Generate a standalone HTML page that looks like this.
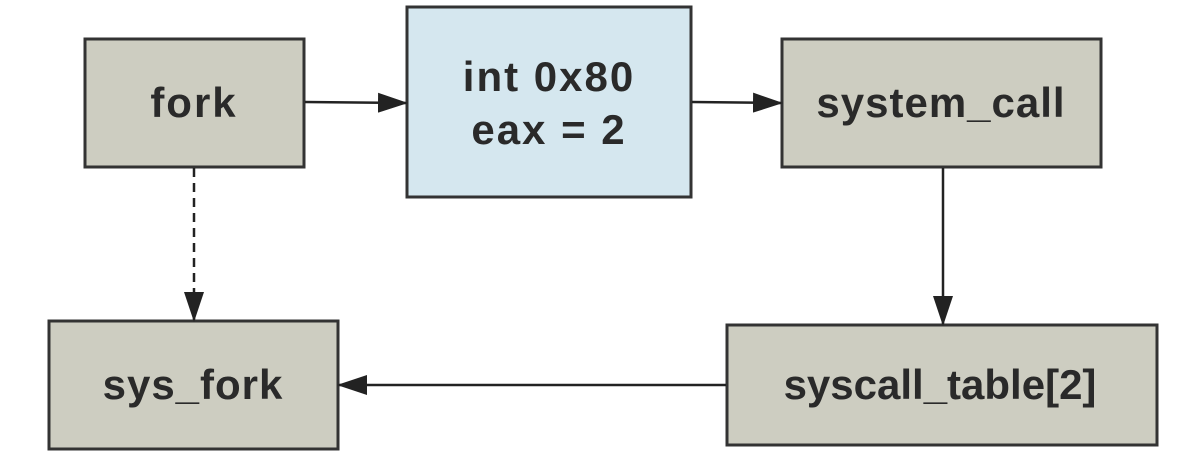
<html><body style="margin:0;width:1180px;height:456px;background:#fff;overflow:hidden">
<svg width="1180" height="456" xmlns="http://www.w3.org/2000/svg" font-family="Liberation Sans, sans-serif" font-weight="bold" font-size="42" fill="#2a2a2a">
<defs>
<marker id="b" markerWidth="30" markerHeight="20" refX="28" refY="10" orient="auto" markerUnits="userSpaceOnUse"><path d="M0,0 L30,10 L0,20 Z" fill="#222"/></marker></defs>
<g stroke="#333" stroke-width="3">
<rect x="85" y="39" width="219" height="128" fill="#cdcdc1"/>
<rect x="407" y="7" width="284" height="190" fill="#d5e7ef"/>
<rect x="782" y="39" width="319" height="128" fill="#cdcdc1"/>
<rect x="49" y="321" width="289" height="128" fill="#cdcdc1"/>
<rect x="727" y="325" width="430" height="120" fill="#cdcdc1"/>
</g>
<g stroke="#222" stroke-width="2.5" fill="none">
<line x1="305" y1="102" x2="406" y2="103" marker-end="url(#b)"/>
<line x1="692" y1="102" x2="781" y2="103" marker-end="url(#b)"/>
<line x1="943" y1="168" x2="943" y2="324" marker-end="url(#b)"/>
<line x1="726" y1="385" x2="339" y2="385" marker-end="url(#b)"/>
<line x1="194" y1="168" x2="194" y2="320" stroke-dasharray="9,6" marker-end="url(#b)"/>
</g>
<g text-anchor="middle">
<text x="194" y="117" letter-spacing="2">fork</text>
<text x="549" y="91" letter-spacing="2">int 0x80</text>
<text x="549" y="144" letter-spacing="2">eax = 2</text>
<text x="941" y="117" letter-spacing="1">system_call</text>
<text x="193" y="399" letter-spacing="1">sys_fork</text>
<text x="940" y="399">syscall_table[2]</text>
</g>
</svg>
</body></html>
